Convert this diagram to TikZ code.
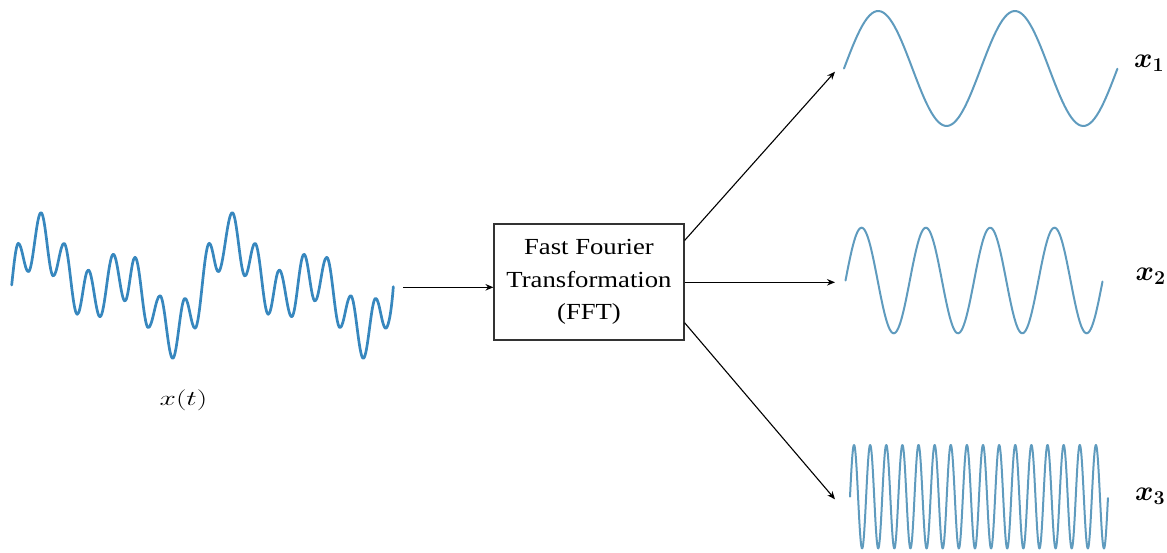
\RequirePackage{fix-cm}
\documentclass[tikz,border=0pt]{standalone}
\usepackage{fontspec}
\usepackage{bm}
\usetikzlibrary{arrows.meta,calc}
\newfontfamily\boxfont[FakeStretch=1.16]{Liberation Serif}
\definecolor{lwavecol}{RGB}{55,135,190}
\definecolor{rwavecol}{RGB}{95,155,190}
\begin{document}
\begin{tikzpicture}[x=1pt,y=-1pt,
  lwave/.style={draw=lwavecol,line width=2.7pt,line join=round,line cap=round},
  rwave/.style={draw=rwavecol,line width=2pt,line join=round,line cap=round},
  arr/.style={draw=black,line width=1.1pt,-{Stealth[length=8pt,width=6.5pt]}},
  fftbox/.style={draw=black!80,line width=1.1pt,minimum width=190pt,minimum height=116pt,inner sep=0pt,align=center,
    font=\boxfont\fontsize{23}{32.5}\selectfont},
  lab/.style={inner sep=0pt,font=\fontsize{28}{32}\selectfont}]
\useasboundingbox (0,0) rectangle (1167,553);

% input signal x(t)
\draw[lwave] (11.7,285) .. controls (13.5,268) and (16,243.3) .. (18.3,243.3)
  \foreach \x/\y [remember=\x as \px (initially 18.3), remember=\y as \py (initially 243.3)] in
  {28.3/271.7, 41/212.7, 53.3/276, 64/243.3, 77.3/314.3, 88.3/270, 100/316.7, 113.3/254.3,
   125/301, 135/257.3, 148.3/327.7, 160/295.7, 172.7/358.3, 185/298.3, 195/328.3,
   209.3/243.3, 218.3/271.7, 232.3/212.7, 245/276, 255/243.3, 268.3/314.3, 279.3/270,
   291.7/316.7, 304/254.3, 315/301, 326.7/257.3, 340/327.7, 350.7/295.7, 363.3/358.3,
   375.7/298.3, 385.7/328.3}
  { .. controls ({\px+0.364*(\x-\px)},\py) and ({\x-0.364*(\x-\px)},\y) .. (\x,\y) }
  .. controls (389,328.3) and (392,305) .. (393.3,286.7);
\coordinate (xin) at (403.3,287.3);
\node[anchor=base,inner sep=0pt,font=\fontsize{21}{25}\selectfont] (xlab) at (183.5,405.7)
  {\scalebox{1.4}[1]{$x(t)$}};

% FFT box
\node[fftbox] (fft) at (589,282) {Fast Fourier\\Transformation\\(FFT)};
\draw[arr] (xin) -- (xin -| fft.west);

% output waves
\coordinate (w1in) at (835,71.7);
\coordinate (w2in) at (835,282.3);
\coordinate (w3in) at (835,499.3);
\draw[rwave] plot[domain=0:2,samples=120] ({844+136.75*\x},{68.5-57.5*sin(360*\x)});
\draw[rwave] plot[domain=0:4,samples=240] ({845.5+64.3*\x},{280.5-52.8*sin(360*\x)});
\draw[rwave] plot[domain=0:16,samples=800] ({850+16.125*\x},{496.7-51.7*sin(360*\x)});

\draw[arr] ($(fft.east)+(0,-41.5)$) -- (w1in);
\draw[arr] (fft.east |- w2in) -- (w2in);
\draw[arr] ($(fft.east)+(0,40.7)$) -- (w3in);

% labels
\node[lab,anchor=base west] (x1) at (1134,67.7) {$\bm{x_1}$};
\node[lab,anchor=base west] (x2) at (1135.5,280.5) {$\bm{x_2}$};
\node[lab,anchor=base west] (x3) at (1135,500.5) {$\bm{x_3}$};
\end{tikzpicture}
\end{document}
